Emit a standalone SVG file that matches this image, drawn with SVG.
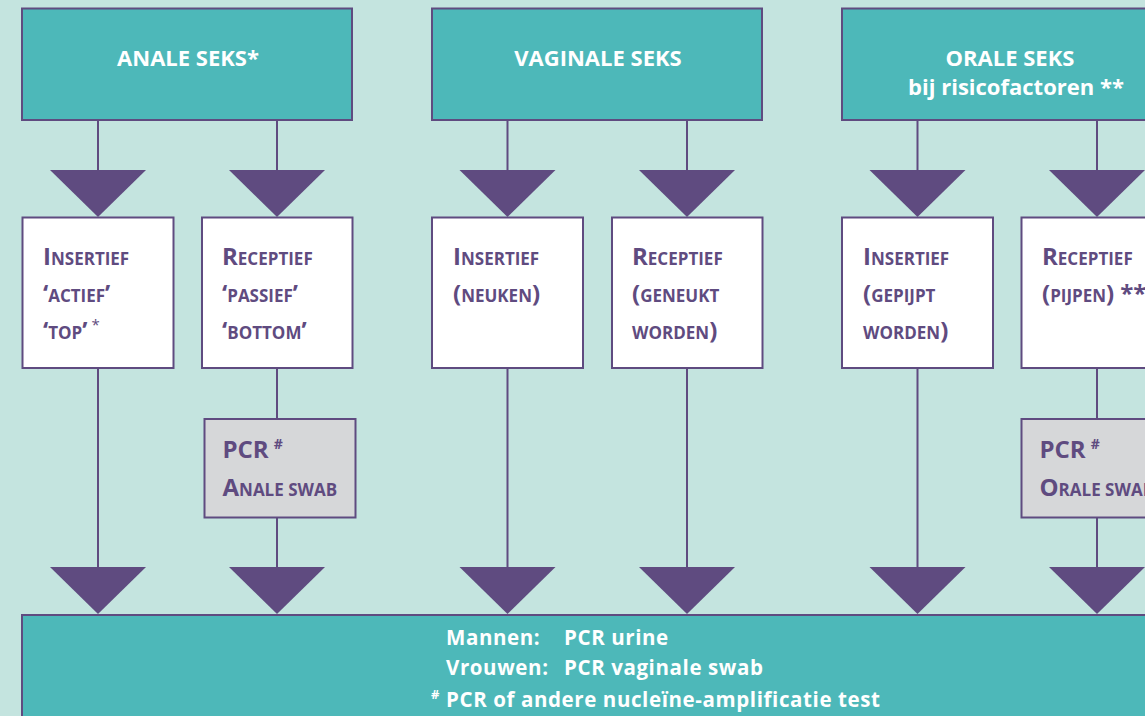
<svg xmlns="http://www.w3.org/2000/svg" xmlns:xlink="http://www.w3.org/1999/xlink" width="1145" height="716" viewBox="0 0 1145 716">
<style>
.bg{fill:#c4e4df}
.head{fill:#4db8b9;stroke:#5f4b80;stroke-width:2}
.card{fill:#ffffff;stroke:#5f4b80;stroke-width:2}
.pcr{fill:#d6d7d9;stroke:#5f4b80;stroke-width:2}
.ln{stroke:#5f4b80;stroke-width:2;fill:none}
.tri{fill:#5f4b80}
.ht{font-family:"Open Sans","Liberation Sans",sans-serif;font-weight:700;font-size:22px;fill:#ffffff;text-anchor:middle}
.ct{font-family:"Open Sans","Liberation Sans",sans-serif;font-weight:700;fill:#5f4b80}
.b{font-size:24px}
.s{font-size:17px}
.sup{font-size:14px}
.ast{font-size:15px;font-weight:400}
.ft{font-family:"Open Sans","Liberation Sans",sans-serif;font-weight:700;font-size:20.5px;letter-spacing:0.6px;fill:#ffffff}
</style>
<defs>
<polygon id="tri" class="tri" points="-48,0 48,0 0,47"/>
</defs>
<rect class="bg" x="0" y="0" width="1145" height="716"/>

<g id="connectors">
<line class="ln" x1="98" y1="120" x2="98" y2="172"/>
<line class="ln" x1="277" y1="120" x2="277" y2="172"/>
<line class="ln" x1="507.5" y1="120" x2="507.5" y2="172"/>
<line class="ln" x1="687" y1="120" x2="687" y2="172"/>
<line class="ln" x1="917.5" y1="120" x2="917.5" y2="172"/>
<line class="ln" x1="1097" y1="120" x2="1097" y2="172"/>
<use xlink:href="#tri" x="98" y="170"/>
<use xlink:href="#tri" x="277" y="170"/>
<use xlink:href="#tri" x="507.5" y="170"/>
<use xlink:href="#tri" x="687" y="170"/>
<use xlink:href="#tri" x="917.5" y="170"/>
<use xlink:href="#tri" x="1097" y="170"/>
<line class="ln" x1="98" y1="368" x2="98" y2="569"/>
<line class="ln" x1="277" y1="368" x2="277" y2="419"/>
<line class="ln" x1="277" y1="517" x2="277" y2="569"/>
<line class="ln" x1="507.5" y1="368" x2="507.5" y2="569"/>
<line class="ln" x1="687" y1="368" x2="687" y2="569"/>
<line class="ln" x1="917.5" y1="368" x2="917.5" y2="569"/>
<line class="ln" x1="1097" y1="368" x2="1097" y2="419"/>
<line class="ln" x1="1097" y1="517" x2="1097" y2="569"/>
<use xlink:href="#tri" x="98" y="567"/>
<use xlink:href="#tri" x="277" y="567"/>
<use xlink:href="#tri" x="507.5" y="567"/>
<use xlink:href="#tri" x="687" y="567"/>
<use xlink:href="#tri" x="917.5" y="567"/>
<use xlink:href="#tri" x="1097" y="567"/>
</g>

<g id="anale">
<rect class="head" x="22" y="8.5" width="330" height="111.5"/>
<text class="ht" x="188" y="66">ANALE SEKS*</text>
</g>
<g id="vaginale">
<rect class="head" x="432" y="8.5" width="330" height="111.5"/>
<text class="ht" x="598" y="66">VAGINALE SEKS</text>
</g>
<g id="orale">
<rect class="head" x="842" y="8.5" width="330" height="111.5"/>
<text class="ht" x="1010" y="66">ORALE SEKS</text>
<text class="ht" x="1016" y="95">bij risicofactoren **</text>
</g>

<g id="anale-insertief">
<rect class="card" x="22.5" y="217.5" width="151" height="150.5"/>
<text class="ct" x="43" y="265"><tspan class="b">I</tspan><tspan class="s">NSERTIEF</tspan></text>
<text class="ct" x="43" y="302"><tspan class="b">‘</tspan><tspan class="s">ACTIEF</tspan><tspan class="b">’</tspan></text>
<text class="ct" x="43" y="339"><tspan class="b">‘</tspan><tspan class="s">TOP</tspan><tspan class="b">’</tspan><tspan class="ast" dx="4" dy="-9">*</tspan></text>
</g>
<g id="anale-receptief">
<rect class="card" x="202" y="217.5" width="150.5" height="150.5"/>
<text class="ct" x="222" y="265"><tspan class="b">R</tspan><tspan class="s">ECEPTIEF</tspan></text>
<text class="ct" x="222" y="302"><tspan class="b">‘</tspan><tspan class="s">PASSIEF</tspan><tspan class="b">’</tspan></text>
<text class="ct" x="222" y="339"><tspan class="b">‘</tspan><tspan class="s">BOTTOM</tspan><tspan class="b">’</tspan></text>
</g>
<g id="anale-pcr">
<rect class="pcr" x="204.5" y="419" width="151" height="98.5"/>
<text class="ct" x="222.5" y="458"><tspan class="b">PCR</tspan><tspan class="sup" dx="5" dy="-9">#</tspan></text>
<text class="ct" x="222.5" y="496"><tspan class="b">A</tspan><tspan class="s">NALE SWAB</tspan></text>
</g>

<g id="vaginale-insertief">
<rect class="card" x="432" y="217.5" width="151" height="150.5"/>
<text class="ct" x="453" y="265"><tspan class="b">I</tspan><tspan class="s">NSERTIEF</tspan></text>
<text class="ct" x="453" y="302"><tspan class="b">(</tspan><tspan class="s">NEUKEN</tspan><tspan class="b">)</tspan></text>
</g>
<g id="vaginale-receptief">
<rect class="card" x="612" y="217.5" width="150.5" height="150.5"/>
<text class="ct" x="632" y="265"><tspan class="b">R</tspan><tspan class="s">ECEPTIEF</tspan></text>
<text class="ct" x="632" y="302"><tspan class="b">(</tspan><tspan class="s">GENEUKT</tspan></text>
<text class="ct" x="632" y="339"><tspan class="s">WORDEN</tspan><tspan class="b">)</tspan></text>
</g>

<g id="orale-insertief">
<rect class="card" x="842" y="217.5" width="151" height="150.5"/>
<text class="ct" x="863" y="265"><tspan class="b">I</tspan><tspan class="s">NSERTIEF</tspan></text>
<text class="ct" x="863" y="302"><tspan class="b">(</tspan><tspan class="s">GEPIJPT</tspan></text>
<text class="ct" x="863" y="339"><tspan class="s">WORDEN</tspan><tspan class="b">)</tspan></text>
</g>
<g id="orale-receptief">
<rect class="card" x="1021.5" y="217.5" width="151" height="150.5"/>
<text class="ct" x="1042" y="265"><tspan class="b">R</tspan><tspan class="s">ECEPTIEF</tspan></text>
<text class="ct" x="1042" y="302"><tspan class="b">(</tspan><tspan class="s">PIJPEN</tspan><tspan class="b">)</tspan><tspan class="b" dx="6">**</tspan></text>
</g>
<g id="orale-pcr">
<rect class="pcr" x="1021.5" y="419" width="151" height="98.5"/>
<text class="ct" x="1039.5" y="458"><tspan class="b">PCR</tspan><tspan class="sup" dx="5" dy="-9">#</tspan></text>
<text class="ct" x="1039.5" y="496"><tspan class="b">O</tspan><tspan class="s">RALE SWAB</tspan></text>
</g>

<g id="resultaat">
<rect class="head" x="22" y="615" width="1140" height="120"/>
<text class="ft" x="446" y="645">Mannen:</text>
<text class="ft" x="564" y="645">PCR urine</text>
<text class="ft" x="446" y="675">Vrouwen:</text>
<text class="ft" x="564" y="675">PCR vaginale swab</text>
<text class="ft" x="431" y="707"><tspan font-size="13" dy="-8">#</tspan><tspan x="446" dy="8">PCR of andere nucleïne-amplificatie test</tspan></text>
</g>
</svg>
